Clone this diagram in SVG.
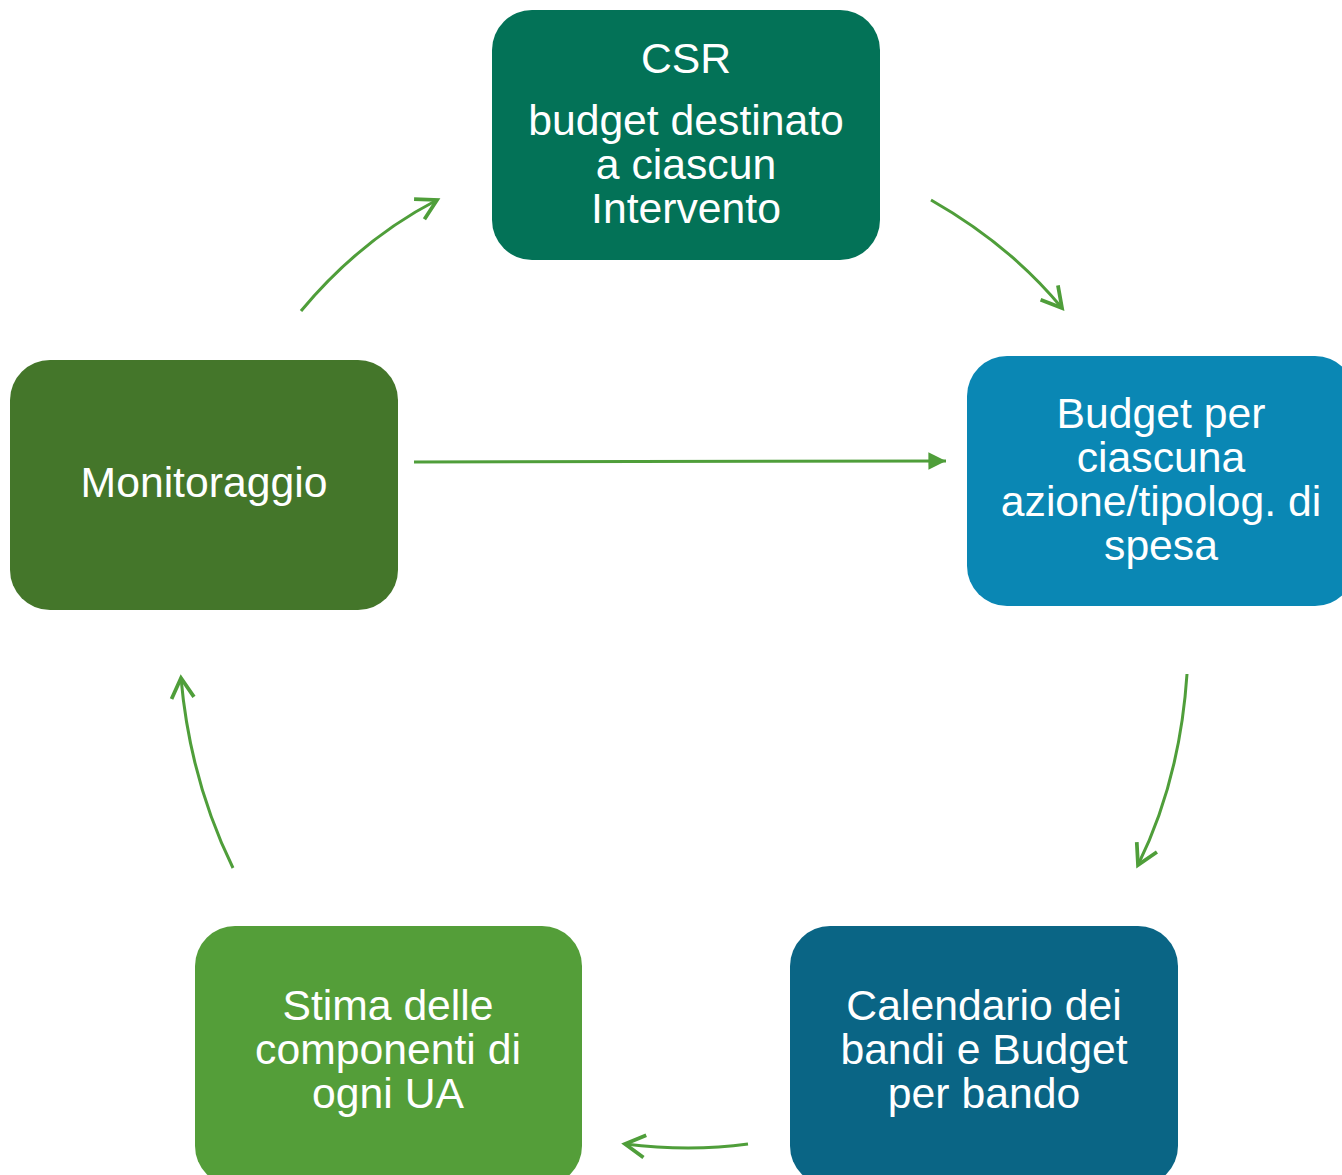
<svg xmlns="http://www.w3.org/2000/svg" width="1342" height="1175" viewBox="0 0 1342 1175">
<style>
.t{font-family:"Liberation Sans",Arial,sans-serif;font-size:42.7px;fill:#fff;text-anchor:middle}
.c{fill:none;stroke:#4F9E3A;stroke-width:3}
</style>
<defs>
<marker id="open" markerUnits="userSpaceOnUse" markerWidth="30" markerHeight="30" viewBox="-20 -12 24 24" refX="0" refY="0" orient="auto">
<path d="M-16,-9 L0,0 L-16,9" fill="none" stroke="#4F9E3A" stroke-width="3"/>
</marker>
<marker id="fill" markerUnits="userSpaceOnUse" markerWidth="22" markerHeight="22" viewBox="-18 -9 20 18" refX="0" refY="0" orient="auto">
<path d="M-16,-8 L0,0 L-16,8 Z" fill="#4F9E3A"/>
</marker>
</defs>
<g id="connectors">
<path class="c" d="M301,311 Q360,240 437,200" marker-end="url(#open)"/>
<path class="c" d="M931,200 Q1010,245 1062,308" marker-end="url(#open)"/>
<path class="c" d="M414,462 L946,461" marker-end="url(#fill)"/>
<path class="c" d="M1187,674 Q1180,780 1138,865" marker-end="url(#open)"/>
<path class="c" d="M748,1144 Q690,1152 625,1144" marker-end="url(#open)"/>
<path class="c" d="M233,868 Q190,780 181,678" marker-end="url(#open)"/>
</g>
<g id="csr">
<rect x="492" y="10" width="388" height="250" rx="40" fill="#037257"/>
<text class="t" x="686" y="73">CSR</text>
<text class="t" x="686" y="135">budget destinato</text>
<text class="t" x="686" y="179">a ciascun</text>
<text class="t" x="686" y="223">Intervento</text>
</g>
<g id="budget">
<rect x="967" y="356" width="388" height="250" rx="40" fill="#0A87B4"/>
<text class="t" x="1161" y="428">Budget per</text>
<text class="t" x="1161" y="472">ciascuna</text>
<text class="t" x="1161" y="516">azione/tipolog. di</text>
<text class="t" x="1161" y="560">spesa</text>
</g>
<g id="calendario">
<rect x="790" y="926" width="388" height="260" rx="40" fill="#0A6585"/>
<text class="t" x="984" y="1020">Calendario dei</text>
<text class="t" x="984" y="1064">bandi e Budget</text>
<text class="t" x="984" y="1108">per bando</text>
</g>
<g id="stima">
<rect x="195" y="926" width="387" height="260" rx="40" fill="#549E39"/>
<text class="t" x="388" y="1020">Stima delle</text>
<text class="t" x="388" y="1064">componenti di</text>
<text class="t" x="388" y="1108">ogni UA</text>
</g>
<g id="monitoraggio">
<rect x="10" y="360" width="388" height="250" rx="40" fill="#44762A"/>
<text class="t" x="204" y="497">Monitoraggio</text>
</g>
</svg>
